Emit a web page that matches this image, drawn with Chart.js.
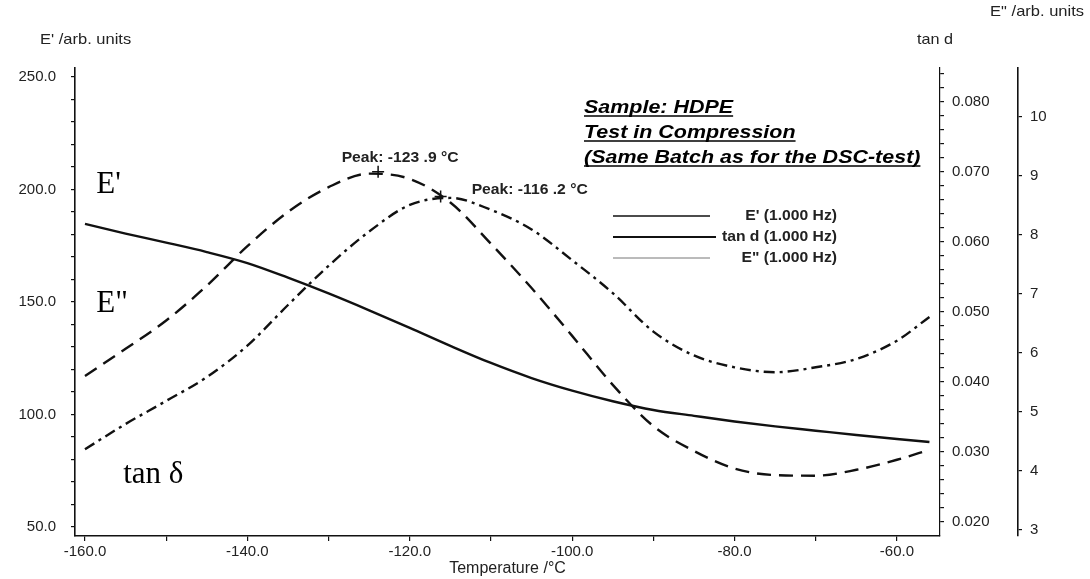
<!DOCTYPE html>
<html>
<head>
<meta charset="utf-8">
<script src="https://cdn.jsdelivr.net/npm/chart.js@4.4.1/dist/chart.umd.min.js"></script>
<style>
  html, body { margin: 0; padding: 0; background: #fff; }
  #wrap { width: 1090px; height: 579px; }
</style>
</head>
<body>
<div id="wrap"><canvas id="dma" width="1090" height="579"></canvas></div>
<script>
// values (HDPE, 1 Hz, compression)
const temps = [-160, -155, -150, -145, -140, -135, -130, -125, -120, -115, -110, -105, -100, -95, -90, -85, -80, -75, -70, -65, -60, -56];
const storageModulus = [184.7, 180.4, 176.4, 172.2, 167.3, 160.8, 153.8, 146.3, 138.5, 130.5, 122.9, 116.2, 110.6, 105.9, 102.0, 99.4, 96.9, 94.7, 92.8, 90.9, 89.1, 87.8];
const lossModulus = [5.61, 6.07, 6.55, 7.14, 7.81, 8.39, 8.81, 9.04, 8.95, 8.55, 7.85, 7.10, 6.29, 5.46, 4.76, 4.34, 4.04, 3.93, 3.92, 4.02, 4.19, 4.36];
const tanDelta = [0.0304, 0.0340, 0.0373, 0.0407, 0.0452, 0.0510, 0.0566, 0.0615, 0.0653, 0.0663, 0.0646, 0.0618, 0.0574, 0.0527, 0.0472, 0.0438, 0.0421, 0.0414, 0.0421, 0.0433, 0.0459, 0.0493];

const peakTemps = [-123.9, -116.2];
const peakValues = [9.07, 0.0665];
const peakLabels = ['Peak: -123 .9 \u00B0C', 'Peak: -116 .2 \u00B0C'];

const xTicks = [-160, -150, -140, -130, -120, -110, -100, -90, -80, -70, -60];
const leftTicks = [50, 60, 70, 80, 90, 100, 110, 120, 130, 140, 150, 160, 170, 180, 190, 200, 210, 220, 230, 240, 250];
const tanTicks = [0.020, 0.022, 0.024, 0.026, 0.028, 0.030, 0.032, 0.034, 0.036, 0.038, 0.040, 0.042, 0.044, 0.046, 0.048, 0.050, 0.052, 0.054, 0.056, 0.058, 0.060, 0.062, 0.064, 0.066, 0.068, 0.070, 0.072, 0.074, 0.076, 0.078, 0.080, 0.082, 0.084];
const e2Ticks = [3, 4, 5, 6, 7, 8, 9, 10];

const legendLabels = ["E' (1.000 Hz)", 'tan d (1.000 Hz)', 'E" (1.000 Hz)'];
const titleLines = ['Sample: HDPE', 'Test in Compression', '(Same Batch as for the DSC-test)'];

const SANS = '"Liberation Sans", Arial, sans-serif';
const SERIF = '"Liberation Serif", "Times New Roman", serif';
const INK = '#111';
const TEXT = '#222';

function pts(values) {
  return temps.map((t, i) => ({ x: t, y: values[i] }));
}

function fixTicks(list) {
  return scale => { scale.ticks = list.map(v => ({ value: v })); };
}

// text a bit wider than the font, like the old plotting software
function wideText(ctx, text, x, y, sx) {
  ctx.save();
  ctx.translate(x, y);
  ctx.scale(sx, 1);
  ctx.fillText(text, 0, 0);
  const w = ctx.measureText(text).width * sx;
  ctx.restore();
  return w;
}

const axisFont = { family: SANS, size: 15 };

const annotate = {
  id: 'annotate',
  afterDraw(chart) {
    const { ctx, scales } = chart;
    ctx.save();

    // axis titles on top
    ctx.fillStyle = TEXT;
    ctx.font = '15px ' + SANS;
    ctx.textBaseline = 'middle';
    ctx.textAlign = 'left';
    wideText(ctx, "E' /arb. units", 40, 40, 1.1);
    ctx.textAlign = 'center';
    wideText(ctx, 'tan d', 935, 40, 1.08);
    ctx.textAlign = 'right';
    wideText(ctx, 'E" /arb. units', 1084, 12, 1.1);

    // curve names
    ctx.fillStyle = '#000';
    ctx.font = '31px ' + SERIF;
    ctx.textAlign = 'left';
    ctx.fillText("E'", scales.x.getPixelForValue(-158.6), scales.yE1.getPixelForValue(202));
    ctx.fillText('E"', scales.x.getPixelForValue(-158.6), scales.yE1.getPixelForValue(149));
    ctx.fillText('tan \u03B4', scales.x.getPixelForValue(-155.3), scales.yE1.getPixelForValue(73));

    // peak labels
    ctx.fillStyle = TEXT;
    ctx.font = 'bold 14px ' + SANS;
    const p1x = scales.x.getPixelForValue(peakTemps[0]);
    const p1y = scales.yE2.getPixelForValue(peakValues[0]);
    ctx.textAlign = 'center';
    wideText(ctx, peakLabels[0], p1x + 22, p1y - 14, 1.12);
    const p2x = scales.x.getPixelForValue(peakTemps[1]);
    const p2y = scales.yTan.getPixelForValue(peakValues[1]);
    ctx.textAlign = 'left';
    wideText(ctx, peakLabels[1], p2x + 31, p2y - 6, 1.12);

    // sample title block
    ctx.fillStyle = '#000';
    ctx.font = 'italic bold 19px ' + SANS;
    ctx.textAlign = 'left';
    ctx.textBaseline = 'alphabetic';
    ctx.strokeStyle = '#000';
    ctx.lineWidth = 1.6;
    titleLines.forEach((line, i) => {
      const y = 113 + i * 25;
      const w = wideText(ctx, line, 584, y, 1.13);
      ctx.beginPath();
      ctx.moveTo(584, y + 3);
      ctx.lineTo(584 + w, y + 3);
      ctx.stroke();
    });

    // legend
    const widths = [1.6, 2.2, 1.0];
    const colors = ['#111', '#111', '#777'];
    const ends = [710, 716, 710];
    ctx.font = 'bold 14px ' + SANS;
    ctx.textBaseline = 'middle';
    ctx.textAlign = 'right';
    legendLabels.forEach((lab, i) => {
      const y = 216 + i * 21;
      ctx.strokeStyle = colors[i];
      ctx.lineWidth = widths[i];
      ctx.beginPath();
      ctx.moveTo(613, y);
      ctx.lineTo(ends[i], y);
      ctx.stroke();
      ctx.fillStyle = TEXT;
      wideText(ctx, lab, 837, y, 1.12);
    });

    ctx.restore();
  }
};

new Chart(document.getElementById('dma'), {
  type: 'line',
  data: {
    datasets: [
      {
        label: legendLabels[0],
        data: pts(storageModulus),
        yAxisID: 'yE1',
        borderColor: INK,
        borderWidth: 2.4,
        pointRadius: 0,
        cubicInterpolationMode: 'monotone'
      },
      {
        label: legendLabels[1],
        data: pts(tanDelta),
        yAxisID: 'yTan',
        borderColor: INK,
        borderWidth: 2.4,
        borderDash: [11, 5, 3, 5],
        pointRadius: 0,
        cubicInterpolationMode: 'monotone'
      },
      {
        label: legendLabels[2],
        data: pts(lossModulus),
        yAxisID: 'yE2',
        borderColor: INK,
        borderWidth: 2.4,
        borderDash: [14, 8],
        pointRadius: 0,
        cubicInterpolationMode: 'monotone'
      },
      {
        label: 'peak E"',
        data: [{ x: peakTemps[0], y: peakValues[0] }],
        yAxisID: 'yE2',
        showLine: false,
        pointStyle: 'cross',
        pointRadius: 6,
        pointBorderColor: INK,
        pointBorderWidth: 1.5
      },
      {
        label: 'peak tan d',
        data: [{ x: peakTemps[1], y: peakValues[1] }],
        yAxisID: 'yTan',
        showLine: false,
        pointStyle: 'cross',
        pointRadius: 6,
        pointBorderColor: INK,
        pointBorderWidth: 1.5
      }
    ]
  },
  options: {
    responsive: false,
    animation: false,
    layout: { padding: { top: 68, left: 0, right: 0, bottom: 0 } },
    plugins: {
      legend: { display: false },
      tooltip: { enabled: false }
    },
    scales: {
      x: {
        type: 'linear',
        position: 'bottom',
        min: -161.23,
        max: -54.7,
        afterBuildTicks: fixTicks(xTicks),
        afterFit: s => { s.height = 43; },
        ticks: {
          autoSkip: false,
          maxRotation: 0,
          padding: 2,
          color: TEXT,
          font: axisFont,
          callback: v => (v % 20 === 0 ? v.toFixed(1) : '')
        },
        grid: { drawOnChartArea: false, tickLength: 5, color: INK, lineWidth: 1.2 },
        border: { display: true, color: INK, width: 1.6 },
        title: {
          display: true,
          text: 'Temperature /\u00B0C',
          color: TEXT,
          font: { family: SANS, size: 16 },
          padding: { top: 0, bottom: 1 }
        }
      },
      yE1: {
        type: 'linear',
        position: 'left',
        min: 46,
        max: 254,
        afterBuildTicks: fixTicks(leftTicks),
        afterFit: s => { s.width = 75; },
        ticks: {
          autoSkip: false,
          padding: 15,
          color: TEXT,
          font: axisFont,
          callback: v => (v % 50 === 0 ? v.toFixed(1) : '')
        },
        grid: { drawOnChartArea: false, tickLength: 4, color: INK, lineWidth: 1.2 },
        border: { display: true, color: INK, width: 1.6 }
      },
      yTan: {
        type: 'linear',
        position: 'right',
        min: 0.018,
        max: 0.08486,
        afterBuildTicks: fixTicks(tanTicks),
        afterFit: s => { s.width = 78; },
        ticks: {
          autoSkip: false,
          padding: 8,
          color: TEXT,
          font: axisFont,
          callback: v => (Math.round(v * 1000) % 10 === 0 ? v.toFixed(3) : '')
        },
        grid: { drawOnChartArea: false, tickLength: 4, color: INK, lineWidth: 1.2 },
        border: { display: true, color: INK, width: 1.2 }
      },
      yE2: {
        type: 'linear',
        position: 'right',
        min: 2.898,
        max: 10.83,
        afterBuildTicks: fixTicks(e2Ticks),
        afterFit: s => { s.width = 72; },
        ticks: {
          autoSkip: false,
          padding: 8,
          color: TEXT,
          font: axisFont,
          callback: v => String(v)
        },
        grid: { drawOnChartArea: false, tickLength: 4, color: INK, lineWidth: 1.2 },
        border: { display: true, color: INK, width: 1.6 }
      }
    }
  },
  plugins: [annotate]
});
</script>
</body>
</html>
